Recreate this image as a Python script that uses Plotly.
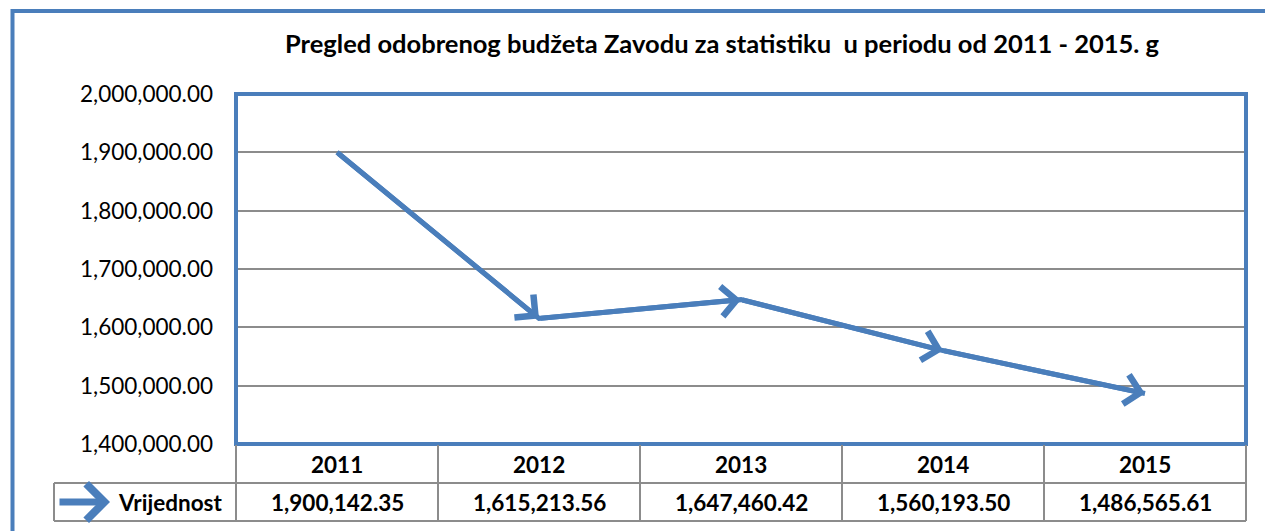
import plotly.graph_objects as go

years = [2011, 2012, 2013, 2014, 2015]
values = [1900142.35, 1615213.56, 1647460.42, 1560193.50, 1486565.61]
value_labels = ["1,900,142.35", "1,615,213.56", "1,647,460.42", "1,560,193.50", "1,486,565.61"]
series_name = "Vrijednost"
title_text = "Pregled odobrenog budžeta Zavodu za statistiku  u periodu od 2011 - 2015. g"
y_ticks = [1400000, 1500000, 1600000, 1700000, 1800000, 1900000, 2000000]
y_tick_text = ["1,400,000.00", "1,500,000.00", "1,600,000.00", "1,700,000.00",
               "1,800,000.00", "1,900,000.00", "2,000,000.00"]

BLUE = "#4a7ebb"
GRID = "#8c8c8c"
FONT = "Lato"

W, H = 1265, 531
L, R, T, B = 236, 19, 94, 87
PW, PH = W - L - R, H - T - B


def px_x(px):
    return (px - L) / PW


def px_y(py):
    return (H - B - py) / PH


fig = go.Figure()
fig.add_trace(go.Scatter(x=years, y=values, mode="lines",
                         line=dict(color=BLUE, width=5), showlegend=False,
                         hoverinfo="skip"))

annotations = []
# arrowheads on each segment
for i in range(1, len(years)):
    annotations.append(dict(x=years[i], y=values[i], xref="x", yref="y",
                            ax=years[i - 1], ay=values[i - 1], axref="x", ayref="y",
                            text="", showarrow=True, arrowhead=4, arrowsize=1.15,
                            arrowwidth=5, arrowcolor=BLUE, standoff=0, startstandoff=0))

shapes = []
# plot area border
shapes.append(dict(type="rect", xref="paper", yref="paper", x0=0, x1=1, y0=0, y1=1,
                   line=dict(color=BLUE, width=4), layer="above"))
# outer chart border
shapes.append(dict(type="rect", xref="paper", yref="paper", x0=px_x(12.5), x1=px_x(1300),
                   y0=px_y(600), y1=px_y(11), line=dict(color=BLUE, width=4)))

# data table lines
y_top, y_mid, y_bot = px_y(445), px_y(483), px_y(521)
n = len(years)
for i in range(n + 1):
    shapes.append(dict(type="line", xref="paper", yref="paper", x0=i / n, x1=i / n,
                       y0=y_top, y1=y_bot, line=dict(color=GRID, width=2)))
shapes.append(dict(type="line", xref="paper", yref="paper", x0=px_x(54), x1=1,
                   y0=y_mid, y1=y_mid, line=dict(color=GRID, width=2)))
shapes.append(dict(type="line", xref="paper", yref="paper", x0=px_x(54), x1=1,
                   y0=y_bot, y1=y_bot, line=dict(color=GRID, width=2)))
shapes.append(dict(type="line", xref="paper", yref="paper", x0=px_x(54), x1=px_x(54),
                   y0=y_mid, y1=y_bot, line=dict(color=GRID, width=2)))

tfont = dict(family=FONT, size=22.5, color="black", weight="bold")
for yr, lab in zip(years, value_labels):
    annotations.append(dict(x=yr, y=px_y(464), xref="x", yref="paper", text=str(yr),
                            showarrow=False, font=tfont, xanchor="center", yanchor="middle"))
    annotations.append(dict(x=yr, y=px_y(502), xref="x", yref="paper", text=lab,
                            showarrow=False, font=tfont, xanchor="center", yanchor="middle"))
annotations.append(dict(x=px_x(224), y=px_y(502), xref="paper", yref="paper", text=series_name,
                        showarrow=False, font=tfont, xanchor="right", yanchor="middle"))
# legend key arrow
annotations.append(dict(x=px_x(110), y=px_y(502), xref="paper", yref="paper", text="",
                        ax=-52, ay=0, showarrow=True, arrowhead=4, arrowsize=1,
                        arrowwidth=7, arrowcolor=BLUE, standoff=0, startstandoff=0))
# title
annotations.append(dict(x=px_x(722), y=px_y(43), xref="paper", yref="paper", text=title_text,
                        showarrow=False, font=dict(family=FONT, size=25.5, color="black", weight="bold"),
                        xanchor="center", yanchor="middle"))

fig.update_layout(
    width=W, height=H,
    margin=dict(l=L, r=R, t=T, b=B, pad=0),
    paper_bgcolor="white", plot_bgcolor="white",
    xaxis=dict(range=[2010.5, 2015.5], showticklabels=False, showgrid=False,
               zeroline=False, showline=False, ticks=""),
    yaxis=dict(range=[1400000, 2000000], tickvals=y_ticks, ticktext=y_tick_text,
               showgrid=True, gridcolor=GRID, gridwidth=1.5, zeroline=False,
               showline=False, ticks="", ticklabelstandoff=22,
               tickfont=dict(family=FONT, size=22.5, color="black")),
    shapes=shapes, annotations=annotations, showlegend=False,
)

fig.write_html("out.html", config={"displayModeBar": False},
               post_script="document.body.style.margin='0px';document.body.style.overflow='hidden';")
